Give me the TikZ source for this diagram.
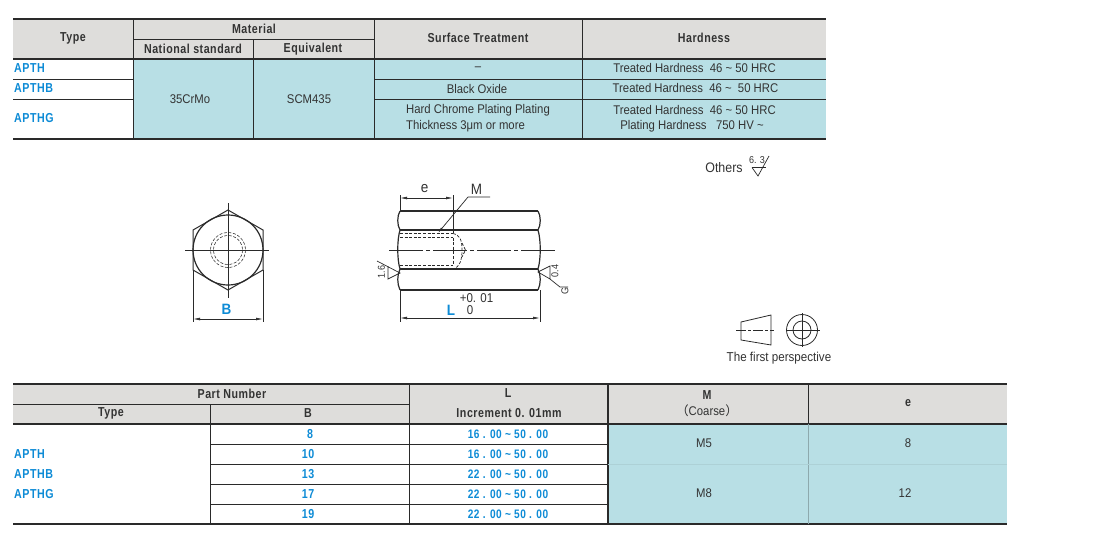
\documentclass[tikz,border=0pt]{standalone}
\usepackage{fontspec}
\setmainfont[FakeStretch=0.9]{Liberation Sans}
\newfontfamily\hdrfont[FakeStretch=0.82,LetterSpace=4,BoldFont={Liberation Sans Bold}]{Liberation Sans}
\newfontfamily\cjkfont{Noto Sans CJK SC}
\definecolor{hdrgrey}{HTML}{DEDDDB}
\definecolor{cellblue}{HTML}{B8DFE5}
\definecolor{inkc}{HTML}{2A2A2A}
\definecolor{textc}{HTML}{333333}
\definecolor{bluec}{HTML}{0D8BD6}
\usetikzlibrary{arrows.meta}
\newcommand{\tld}{\textasciitilde}
\tikzset{
  x=1pt,y=-1pt,
  hdrtxt/.style={font=\hdrfont\bfseries\fontsize{13}{14}\selectfont,text=textc,inner sep=0pt},
  celltxt/.style={font=\fontsize{12.6}{16}\selectfont,text=textc,inner sep=0pt,align=center},
  bluetxt/.style={font=\hdrfont\bfseries\fontsize{13}{14}\selectfont,text=bluec,inner sep=0pt},
  rangetxt/.style={font=\hdrfont\bfseries\fontsize{12.3}{14}\selectfont,text=bluec,inner sep=0pt},
  heavy/.style={draw=inkc,line width=1.6pt},
  thin rule/.style={draw=inkc,line width=.9pt},
  part/.style={draw=inkc,line width=1.2pt},
  fine/.style={draw=inkc,line width=.7pt},
  dim/.style={draw=inkc,line width=.7pt,{Latex[length=7pt,width=2.8pt]}-{Latex[length=7pt,width=2.8pt]}},
  hidden/.style={draw=inkc,line width=.7pt,dash pattern=on 3pt off 1.6pt},
  axis/.style={draw=inkc,line width=.7pt},
  dimtxt/.style={font=\fontsize{12.6}{14}\selectfont,text=textc,inner sep=0pt},
  smalltxt/.style={font=\fontsize{10}{10}\selectfont,text=textc,inner sep=0pt},
}
\begin{document}
\begin{tikzpicture}
\useasboundingbox[fill=white] (0,0) rectangle (1100,547);
% ---------- upper table ----------
\fill[hdrgrey] (13,19) rectangle (826,59);
\fill[cellblue] (133,59) rectangle (826,139);
\draw[heavy] (13,19)--(826,19) (13,59)--(826,59) (13,139)--(826,139);
\draw[thin rule] (133,39)--(374,39) (13,79)--(133,79) (13,99)--(133,99)
  (374,79)--(826,79) (374,99)--(826,99);
\draw[thin rule] (133,19)--(133,139) (374,19)--(374,139) (582,19)--(582,139);
\draw[thin rule] (253,39)--(253,139);
\node[hdrtxt] (t1) at (73,38) {Type};
\node[hdrtxt] (t2) at (254,29) {Material};
\node[hdrtxt] (t3) at (193,49) {National standard};
\node[hdrtxt] (t4) at (313,49) {Equivalent};
\node[hdrtxt] (t5) at (478,38) {Surface Treatment};
\node[hdrtxt] (t6) at (704,38) {Hardness};
\node[bluetxt,anchor=west] (a1) at (14,68) {APTH};
\node[bluetxt,anchor=west] (a2) at (14,88) {APTHB};
\node[bluetxt,anchor=west] (a3) at (14,118) {APTHG};
\node[celltxt] (c1) at (190,99) {35CrMo};
\node[celltxt] (c2) at (309,99) {SCM435};
\node[celltxt] (c3) at (478,69) {–};
\node[celltxt] (c4) at (477,89) {Black Oxide};
\node[celltxt,align=left] (c5) at (478,118.500) {Hard Chrome Plating Plating\\Thickness 3μm or more};
\node[celltxt] (h1) at (694.500,68) {Treated Hardness\ \ 46 \tld\ 50 HRC};
\node[celltxt] (h2) at (695.500,88) {Treated Hardness\ \ 46 \tld\ \ 50 HRC};
\node[celltxt] (h3) at (694.500,110) {Treated Hardness\ \ 46 \tld\ 50 HRC};
\node[celltxt] (h4) at (692,126) {Plating Hardness\ \ \ 750 HV \tld};
% ---------- lower table ----------
\fill[hdrgrey] (13,384) rectangle (1007,424);
\fill[cellblue] (608,424) rectangle (1007,524);
\draw[heavy] (13,384)--(1007,384) (13,424)--(1007,424) (13,524)--(1007,524);
\draw[thin rule] (13,404)--(409,404) (210,444)--(608,444) (210,464)--(608,464) (210,484)--(608,484) (210,504)--(608,504);
\draw[thin rule] (210,404)--(210,524) (409,384)--(409,524);
\draw[line width=1.3pt,draw=inkc] (608,384)--(608,524);
\draw[draw=inkc,line width=.6pt] (808,384)--(808,424);
\draw[draw=cellblue!70!inkc,line width=.4pt] (808,424)--(808,524);
\draw[draw=cellblue!92!inkc,line width=.5pt] (608,464)--(1007,464);
\node[hdrtxt] (p1) at (232,393.500) {Part Number};
\node[hdrtxt] (p2) at (111,413.500) {Type};
\node[hdrtxt] (p3) at (308,413.500) {B};
\node[hdrtxt] (p4) at (508,393.500) {L};
\node[hdrtxt] (p5) at (509,413.500) {Increment 0. 01mm};
\node[hdrtxt] (p6) at (707,395) {M};
\node[celltxt] (p7) at (707,411) {{\cjkfont （}Coarse{\cjkfont ）}};
\node[hdrtxt] (p8) at (908,403.500) {e};
\node[bluetxt,anchor=west] (b1) at (14,454) {APTH};
\node[bluetxt,anchor=west] (b2) at (14,474) {APTHB};
\node[bluetxt,anchor=west] (b3) at (14,494) {APTHG};
\node[bluetxt] (r1) at (310,434) {8};
\node[bluetxt] (r2) at (308,454) {10};
\node[bluetxt] (r3) at (308,474) {13};
\node[bluetxt] (r4) at (308,494) {17};
\node[bluetxt] (r5) at (308,514) {19};
\node[rangetxt] (l1) at (508,434) {16 . 00 \tld\ 50 . 00};
\node[rangetxt] (l2) at (508,454) {16 . 00 \tld\ 50 . 00};
\node[rangetxt] (l3) at (508,474) {22 . 00 \tld\ 50 . 00};
\node[rangetxt] (l4) at (508,494) {22 . 00 \tld\ 50 . 00};
\node[rangetxt] (l5) at (508,514) {22 . 00 \tld\ 50 . 00};
\node[celltxt] (m1) at (704,443) {M5};
\node[celltxt] (m2) at (704,493) {M8};
\node[celltxt] (e1) at (908,443) {8};
\node[celltxt] (e2) at (905,493) {12};
% ---------- end view ----------
\draw[part,line width=1pt] (193,230)--(228,210)--(263,230)--(263,270)--(228,290)--(193,270)--cycle;
\draw[part] (228,250) circle (35);
\draw[axis] (185,250)--(269,250) (228,203)--(228,298);
\draw[hidden,line width=.55pt] (228,250) circle (17.500);
\draw[hidden,line width=.55pt] (228,250) circle (14.500);
\draw[fine] (193,270)--(193,322) (263,270)--(263,322);
\draw[dim] (193,319)--(263,319);
\node[bluetxt,font=\bfseries\fontsize{15}{15}\selectfont] (bb) at (226.500,309.500) {B};
% ---------- side view ----------
\draw[part] (400,211)--(538,211) (400,230)--(538,230) (400,269)--(538,269) (400,290)--(538,290);
\draw[part] (400,211) .. controls (397,216) and (397,225) .. (400,230)
  .. controls (397,240) and (397,259) .. (400,269)
  .. controls (397,275) and (397,284) .. (400,290);
\draw[part] (538,211) .. controls (541,216) and (541,225) .. (538,230)
  .. controls (541,240) and (541,259) .. (538,269)
  .. controls (541,275) and (541,284) .. (538,290);
\draw[hidden] (400,233.500)--(453,233.500) (400,237.500)--(453,237.500)
  (400,265)--(453,265) (400,269)--(453,269);
\draw[hidden] (453,233.500) .. controls (460,235) and (462,240) .. (462,250)
  .. controls (462,260) and (460,267) .. (453,269);
\draw[hidden] (453,237.500)--(453,265);
\draw[hidden] (462,243)--(465.500,250)--(462,257);
\draw[axis,dash pattern=on 34pt off 3pt on 4pt off 3pt] (389,250)--(555,250);
\draw[fine] (400,195)--(400,211) (453,195)--(453,233);
\draw[dim] (400,198)--(453,198);
\node[dimtxt,font=\fontsize{15}{15}\selectfont] (ee) at (424.500,188.500) {e};
\node[dimtxt,font=\fontsize{15}{15}\selectfont] (mm) at (476.500,189.500) {M};
\coordinate (lead1) at (490,197);
\coordinate (lead2) at (468,197);
\coordinate (lead3) at (438,233);
\draw[fine,-{Latex[length=6pt,width=2.4pt]}] (lead1)--(lead2)--(lead3);
\draw[fine] (400,290)--(400,322) (540,290)--(540,322);
\draw[dim] (400,318)--(540,318);
\node[bluetxt,font=\bfseries\fontsize{15}{15}\selectfont] (ll) at (451,310.500) {L};
\node[dimtxt,font=\fontsize{12.8}{14}\selectfont] (tol1) at (476.500,298) {+0. 01};
\node[dimtxt,font=\fontsize{12.8}{14}\selectfont] (tol2) at (470,310) {0};
% roughness left
\draw[fine] (377,261)--(400,273)--(388,279)--(388,266);
\node[smalltxt,rotate=90] (r16) at (381.500,272) {1.6};
% roughness right
\draw[fine] (550,266)--(538,272)--(550,279)--cycle;
\draw[fine] (550,279)--(560,287)--(568,287);
\node[smalltxt,rotate=90] (r04) at (555,271) {0.4};
\node[smalltxt,rotate=90] (rg) at (565,290.500) {G};
% ---------- others ----------
\node[dimtxt,font=\fontsize{13.8}{14}\selectfont] (oth) at (724,168) {Others};
\node[smalltxt] (r63) at (757,160) {6. 3};
\draw[fine] (752,167.500)--(766,167.500);
\draw[fine] (752,167.500)--(758,176)--(769,156);
% ---------- projection symbol ----------
\draw[fine,line width=.8pt] (741,322)--(771,315)--(771,345)--(741,340)--cycle;
\draw[axis,dash pattern=on 10pt off 2pt on 3pt off 2pt] (736,330)--(774,330);
\draw[fine,line width=.8pt] (802,330) circle (15.500);
\draw[fine,line width=.8pt] (802,330) circle (9);
\draw[axis] (787,330)--(820,330) (802,313)--(802,347);
\node[dimtxt,font=\fontsize{12.9}{14}\selectfont] (fp) at (779,358) {The first perspective};
\end{tikzpicture}
\end{document}
